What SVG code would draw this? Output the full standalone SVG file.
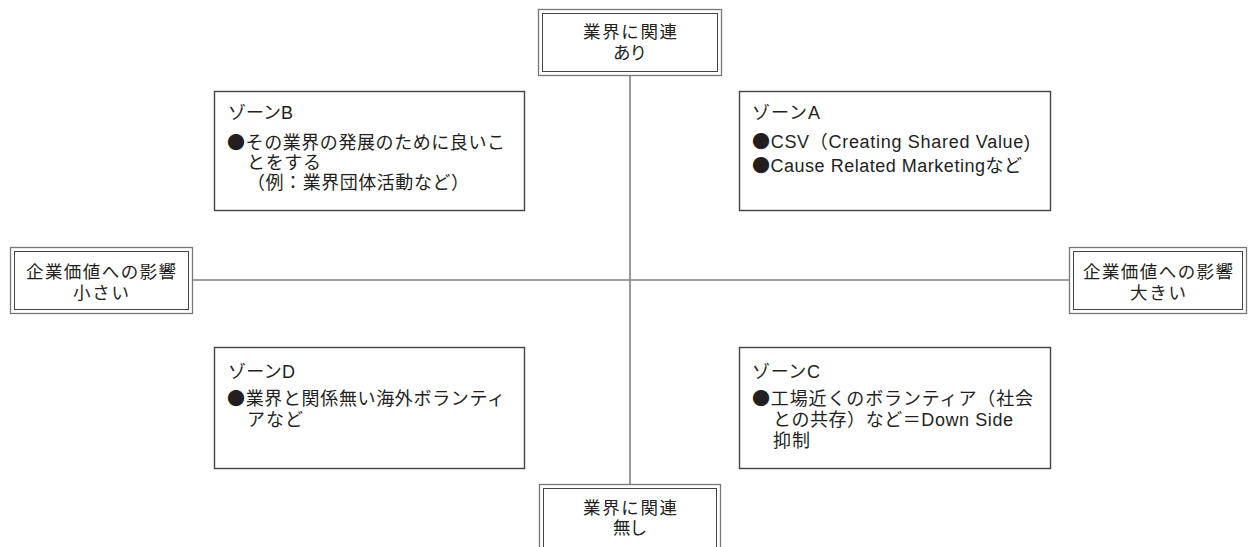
<svg xmlns="http://www.w3.org/2000/svg" width="1249" height="547" viewBox="0 0 1249 547">
<style>
text{font-family:"Liberation Sans","Noto Sans CJK JP",sans-serif;font-size:17.5px;fill:#231f20}
.z{font-size:18px}
.b{font-family:"Noto Sans CJK JP",sans-serif}
.lbl{text-anchor:middle}
.outer{fill:#fff;stroke:#777;stroke-width:1.3}
.inner{fill:none;stroke:#444;stroke-width:1}
.zone{fill:#fff;stroke:#444;stroke-width:1.4}
.axis{stroke:#808080;stroke-width:1.6;fill:none}
</style>
<rect width="1249" height="547" fill="#fff"/>
<g id="connectors">
<line class="axis" x1="630" y1="75" x2="630" y2="485"/>
<line class="axis" x1="192" y1="280" x2="1069" y2="280"/>
</g>
<g id="top-label">
<rect class="outer" x="538.5" y="9.5" width="183" height="66"/>
<rect class="inner" x="542.5" y="13.5" width="175" height="58"/>
<text class="lbl" x="630" y="38" textLength="94" lengthAdjust="spacing">業界に関連</text>
<text class="lbl" x="630" y="59" textLength="34" lengthAdjust="spacing">あり</text>
</g>
<g id="bottom-label">
<rect class="outer" x="539.5" y="484.5" width="181" height="80"/>
<rect class="inner" x="543.5" y="488.5" width="173" height="80"/>
<text class="lbl" x="630" y="514" textLength="94" lengthAdjust="spacing">業界に関連</text>
<text class="lbl" x="630" y="534" textLength="34" lengthAdjust="spacing">無し</text>
</g>
<g id="left-label">
<rect class="outer" x="10.5" y="247.5" width="182" height="66"/>
<rect class="inner" x="14.5" y="251.5" width="174" height="58"/>
<text class="lbl" x="101" y="278" textLength="150" lengthAdjust="spacing">企業価値への影響</text>
<text class="lbl" x="101" y="299" textLength="56" lengthAdjust="spacing">小さい</text>
</g>
<g id="right-label">
<rect class="outer" x="1069.5" y="247.5" width="177" height="66"/>
<rect class="inner" x="1073.5" y="251.5" width="169" height="58"/>
<text class="lbl" x="1158" y="278" textLength="150" lengthAdjust="spacing">企業価値への影響</text>
<text class="lbl" x="1158" y="299" textLength="56" lengthAdjust="spacing">大きい</text>
</g>
<g id="zone-b">
<rect class="zone" x="214.5" y="91.5" width="310" height="119"/>
<text class="z" x="228" y="119" textLength="65" lengthAdjust="spacing">ゾーンB</text>
<text class="z" x="227" y="149" textLength="278" lengthAdjust="spacing"><tspan class="b">●</tspan>その業界の発展のために良いこ</text>
<text class="z" x="247" y="169" textLength="74" lengthAdjust="spacing">とをする</text>
<text class="z" x="247" y="189" textLength="222" lengthAdjust="spacing">（例：業界団体活動など）</text>
</g>
<g id="zone-a">
<rect class="zone" x="739.5" y="91.5" width="311" height="119"/>
<text class="z" x="752" y="119" textLength="68" lengthAdjust="spacing">ゾーンA</text>
<text class="z" x="752" y="148" textLength="278" lengthAdjust="spacing"><tspan class="b">●</tspan>CSV（Creating Shared Value)</text>
<text class="z" x="752" y="172" textLength="270" lengthAdjust="spacing"><tspan class="b">●</tspan>Cause Related Marketingなど</text>
</g>
<g id="zone-d">
<rect class="zone" x="214.5" y="347.5" width="310" height="121"/>
<text class="z" x="228" y="378" textLength="67" lengthAdjust="spacing">ゾーンD</text>
<text class="z" x="227" y="405" textLength="278" lengthAdjust="spacing"><tspan class="b">●</tspan>業界と関係無い海外ボランティ</text>
<text class="z" x="247" y="426" textLength="56" lengthAdjust="spacing">アなど</text>
</g>
<g id="zone-c">
<rect class="zone" x="739.5" y="347.5" width="311" height="121"/>
<text class="z" x="752" y="378" textLength="68" lengthAdjust="spacing">ゾーンC</text>
<text class="z" x="752" y="405" textLength="281" lengthAdjust="spacing"><tspan class="b">●</tspan>工場近くのボランティア（社会</text>
<text class="z" x="773" y="426" textLength="240" lengthAdjust="spacing">との共存）など＝Down Side</text>
<text class="z" x="773" y="447" textLength="37" lengthAdjust="spacing">抑制</text>
</g>
</svg>
